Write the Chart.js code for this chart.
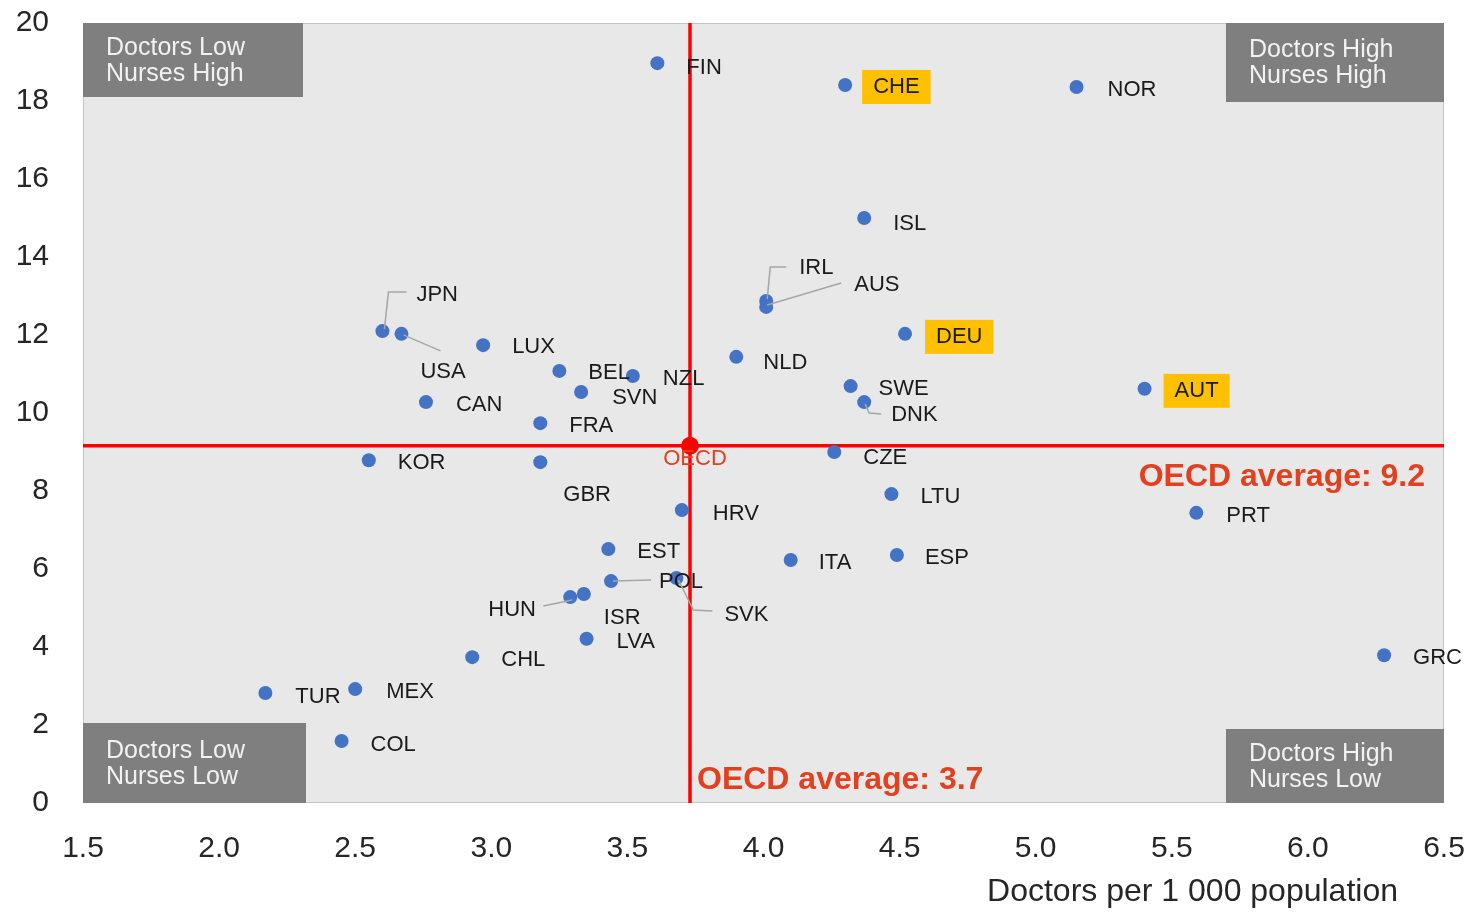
<!DOCTYPE html>
<html>
<head>
<meta charset="utf-8">
<script src="https://cdn.jsdelivr.net/npm/chart.js@4.4.1/dist/chart.umd.min.js"></script>
<style>
  body { margin: 0; background: #fff; }
  #wrap { width: 1471px; height: 913px; }
</style>
</head>
<body>
<div id="wrap"><canvas id="chart" width="1471" height="913"></canvas></div>
<script>
// Doctors vs nurses per 1 000 population, OECD countries
const countries = ['FIN', 'CHE', 'NOR', 'ISL', 'IRL', 'AUS', 'DEU', 'JPN', 'USA', 'LUX',
  'NLD', 'BEL', 'NZL', 'SVN', 'SWE', 'AUT', 'DNK', 'CAN', 'FRA', 'KOR',
  'GBR', 'CZE', 'LTU', 'HRV', 'PRT', 'EST', 'ITA', 'ESP', 'POL', 'SVK',
  'HUN', 'ISR', 'LVA', 'CHL', 'GRC', 'TUR', 'MEX', 'COL'];
const doctors = [3.61, 4.30, 5.15, 4.37, 4.01, 4.01, 4.52, 2.60, 2.67, 2.97,
  3.90, 3.25, 3.52, 3.33, 4.32, 5.40, 4.37, 2.76, 3.18, 2.55,
  3.18, 4.26, 4.47, 3.70, 5.59, 3.43, 4.10, 4.49, 3.44, 3.68,
  3.29, 3.34, 3.35, 2.93, 6.28, 2.17, 2.50, 2.45];
const nurses = [18.97, 18.41, 18.36, 15.0, 12.87, 12.72, 12.03, 12.10, 12.03, 11.74,
  11.44, 11.08, 10.95, 10.54, 10.69, 10.62, 10.28, 10.28, 9.74, 8.79,
  8.74, 9.0, 7.92, 7.51, 7.44, 6.51, 6.23, 6.36, 5.69, 5.77,
  5.28, 5.36, 4.21, 3.74, 3.79, 2.82, 2.92, 1.59];
const highlighted = ['CHE', 'DEU', 'AUT'];
const oecdDoctors = 3.73;
const oecdNurses = 9.16;
const xTicks = [1.5, 2.0, 2.5, 3.0, 3.5, 4.0, 4.5, 5.0, 5.5, 6.0, 6.5];
const yTicks = [0, 2, 4, 6, 8, 10, 12, 14, 16, 18, 20];

// label placement (pixel offsets from the point) and leader lines
const labelOffset = {
  FIN: [29, 5], CHE: [28, 2], NOR: [31, 3], ISL: [29, 6], IRL: [33, -33], AUS: [88, -22],
  DEU: [31, 3], JPN: [34, -36], USA: [19, 38], LUX: [29, 2], NLD: [27, 6], BEL: [29, 2],
  NZL: [30, 3], SVN: [31, 6], SWE: [28, 3], AUT: [30, 2], DNK: [27, 13], CAN: [30, 3],
  FRA: [29, 3], KOR: [29, 3], GBR: [23, 33], CZE: [29, 6], LTU: [29, 3], HRV: [31, 4],
  PRT: [30, 3], EST: [29, 3], ITA: [28, 3], ESP: [28, 3], POL: [48, 1], SVK: [48, 37],
  HUN: [-82, 13], ISR: [20, 24], LVA: [30, 3], CHL: [29, 3], GRC: [29, 3], TUR: [30, 4],
  MEX: [31, 3], COL: [29, 4]
};
const leaders = {
  JPN: [[2, -2], [6, -39], [24, -39]],
  USA: [[2, 1], [39, 17]],
  IRL: [[1, -2], [4, -34], [20, -34]],
  AUS: [[1, -2], [75, -24]],
  DNK: [[1, 2], [5, 11], [17, 12]],
  HUN: [[2, 3], [-27, 9]],
  POL: [[2, 0], [40, -1]],
  SVK: [[2, 2], [17, 32], [36, 33]]
};

const FONT = "'Liberation Sans', Arial, sans-serif";

const decorPlugin = {
  id: 'decor',
  beforeDraw(chart) {
    const { ctx, chartArea: a } = chart;
    ctx.save();
    ctx.fillStyle = '#e8e8e8';
    ctx.fillRect(a.left, a.top, a.right - a.left, a.bottom - a.top);
    ctx.strokeStyle = '#c4c4c4';
    ctx.lineWidth = 1;
    ctx.strokeRect(a.left + 0.5, a.top + 0.5, a.right - a.left - 1, a.bottom - a.top - 1);
    ctx.restore();
  },
  afterDatasetsDraw(chart) {
    const { ctx, chartArea: a, scales } = chart;
    const meta = chart.getDatasetMeta(2);
    ctx.save();
    ctx.font = '22px ' + FONT;
    ctx.textBaseline = 'middle';
    countries.forEach((c, i) => {
      const p = meta.data[i];
      const ld = leaders[c];
      if (ld) {
        ctx.strokeStyle = '#a6a6a6';
        ctx.lineWidth = 1.5;
        ctx.beginPath();
        ld.forEach((o, k) => {
          if (k === 0) ctx.moveTo(p.x + o[0], p.y + o[1]);
          else ctx.lineTo(p.x + o[0], p.y + o[1]);
        });
        ctx.stroke();
      }
      const off = labelOffset[c] || [28, 3];
      const lx = p.x + off[0];
      const ly = p.y + off[1];
      if (highlighted.includes(c)) {
        const w = ctx.measureText(c).width;
        ctx.fillStyle = '#ffc000';
        ctx.fillRect(lx - 11, ly - 17, w + 22, 34);
      }
      ctx.fillStyle = '#1a1a1a';
      ctx.textAlign = 'left';
      ctx.fillText(c, lx, ly);
    });

    // OECD point label
    const op = chart.getDatasetMeta(3).data[0];
    ctx.fillStyle = '#e2401f';
    ctx.textAlign = 'center';
    ctx.fillText('OECD', op.x + 5, op.y + 13);

    // average annotations
    ctx.font = 'bold 32px ' + FONT;
    ctx.textAlign = 'right';
    ctx.fillText('OECD average: 9.2', a.right - 19, scales.y.getPixelForValue(oecdNurses) + 31);
    ctx.textAlign = 'left';
    ctx.fillText('OECD average: 3.7', scales.x.getPixelForValue(oecdDoctors) + 7, a.bottom - 23);

    // quadrant boxes
    const boxes = [
      { x: a.left, y: a.top, w: 220, h: 74, t: ['Doctors Low', 'Nurses High'] },
      { x: a.right - 218, y: a.top, w: 218, h: 79, t: ['Doctors High', 'Nurses High'] },
      { x: a.left, y: a.bottom - 80, w: 223, h: 80, t: ['Doctors Low', 'Nurses Low'] },
      { x: a.right - 218, y: a.bottom - 74, w: 218, h: 74, t: ['Doctors High', 'Nurses Low'] }
    ];
    ctx.font = '25px ' + FONT;
    boxes.forEach(b => {
      ctx.fillStyle = '#7f7f7f';
      ctx.fillRect(b.x, b.y, b.w, b.h);
      ctx.fillStyle = '#f2f2f2';
      ctx.textAlign = 'left';
      ctx.fillText(b.t[0], b.x + 23, b.y + b.h / 2 - 12);
      ctx.fillText(b.t[1], b.x + 23, b.y + b.h / 2 + 14);
    });

    // x axis title
    ctx.font = '32px ' + FONT;
    ctx.fillStyle = '#262626';
    ctx.textAlign = 'right';
    ctx.fillText('Doctors per 1 000 population', a.right - 46, 892);
    ctx.restore();
  }
};

new Chart(document.getElementById('chart'), {
  type: 'scatter',
  data: {
    datasets: [{
      type: 'line',
      data: [{ x: oecdDoctors, y: 0 }, { x: oecdDoctors, y: 20 }],
      borderColor: '#ff0000',
      borderWidth: 3.5,
      pointRadius: 0,
      order: 4
    }, {
      type: 'line',
      data: [{ x: 1.5, y: oecdNurses }, { x: 6.5, y: oecdNurses }],
      borderColor: '#ff0000',
      borderWidth: 3.5,
      pointRadius: 0,
      order: 3
    }, {
      data: countries.map((c, i) => ({ x: doctors[i], y: nurses[i] })),
      backgroundColor: '#4472c4',
      borderWidth: 0,
      pointRadius: 7,
      order: 2
    }, {
      data: [{ x: oecdDoctors, y: oecdNurses }],
      backgroundColor: '#ff0000',
      borderWidth: 0,
      pointRadius: 9,
      order: 1
    }]
  },
  options: {
    responsive: false,
    animation: false,
    layout: { padding: { left: 0, top: 23, right: 27, bottom: 0 } },
    plugins: { legend: { display: false }, tooltip: { enabled: false } },
    scales: {
      x: {
        type: 'linear',
        min: 1.5,
        max: 6.5,
        afterBuildTicks: s => { s.ticks = xTicks.map(v => ({ value: v })); },
        afterFit: s => { s.height = 110; s.paddingLeft = 0; s.paddingRight = 0; },
        grid: { display: false, drawTicks: false },
        border: { display: false },
        ticks: {
          padding: 28,
          color: '#262626',
          font: { family: FONT, size: 30 },
          callback: v => v.toFixed(1)
        }
      },
      y: {
        min: 0,
        max: 20,
        afterBuildTicks: s => { s.ticks = yTicks.map(v => ({ value: v })); },
        afterFit: s => { s.width = 83; s.paddingTop = 0; s.paddingBottom = 0; },
        grid: { display: false, drawTicks: false },
        border: { display: false },
        ticks: {
          padding: 34,
          color: '#262626',
          font: { family: FONT, size: 30 }
        }
      }
    }
  },
  plugins: [decorPlugin]
});
</script>
</body>
</html>
